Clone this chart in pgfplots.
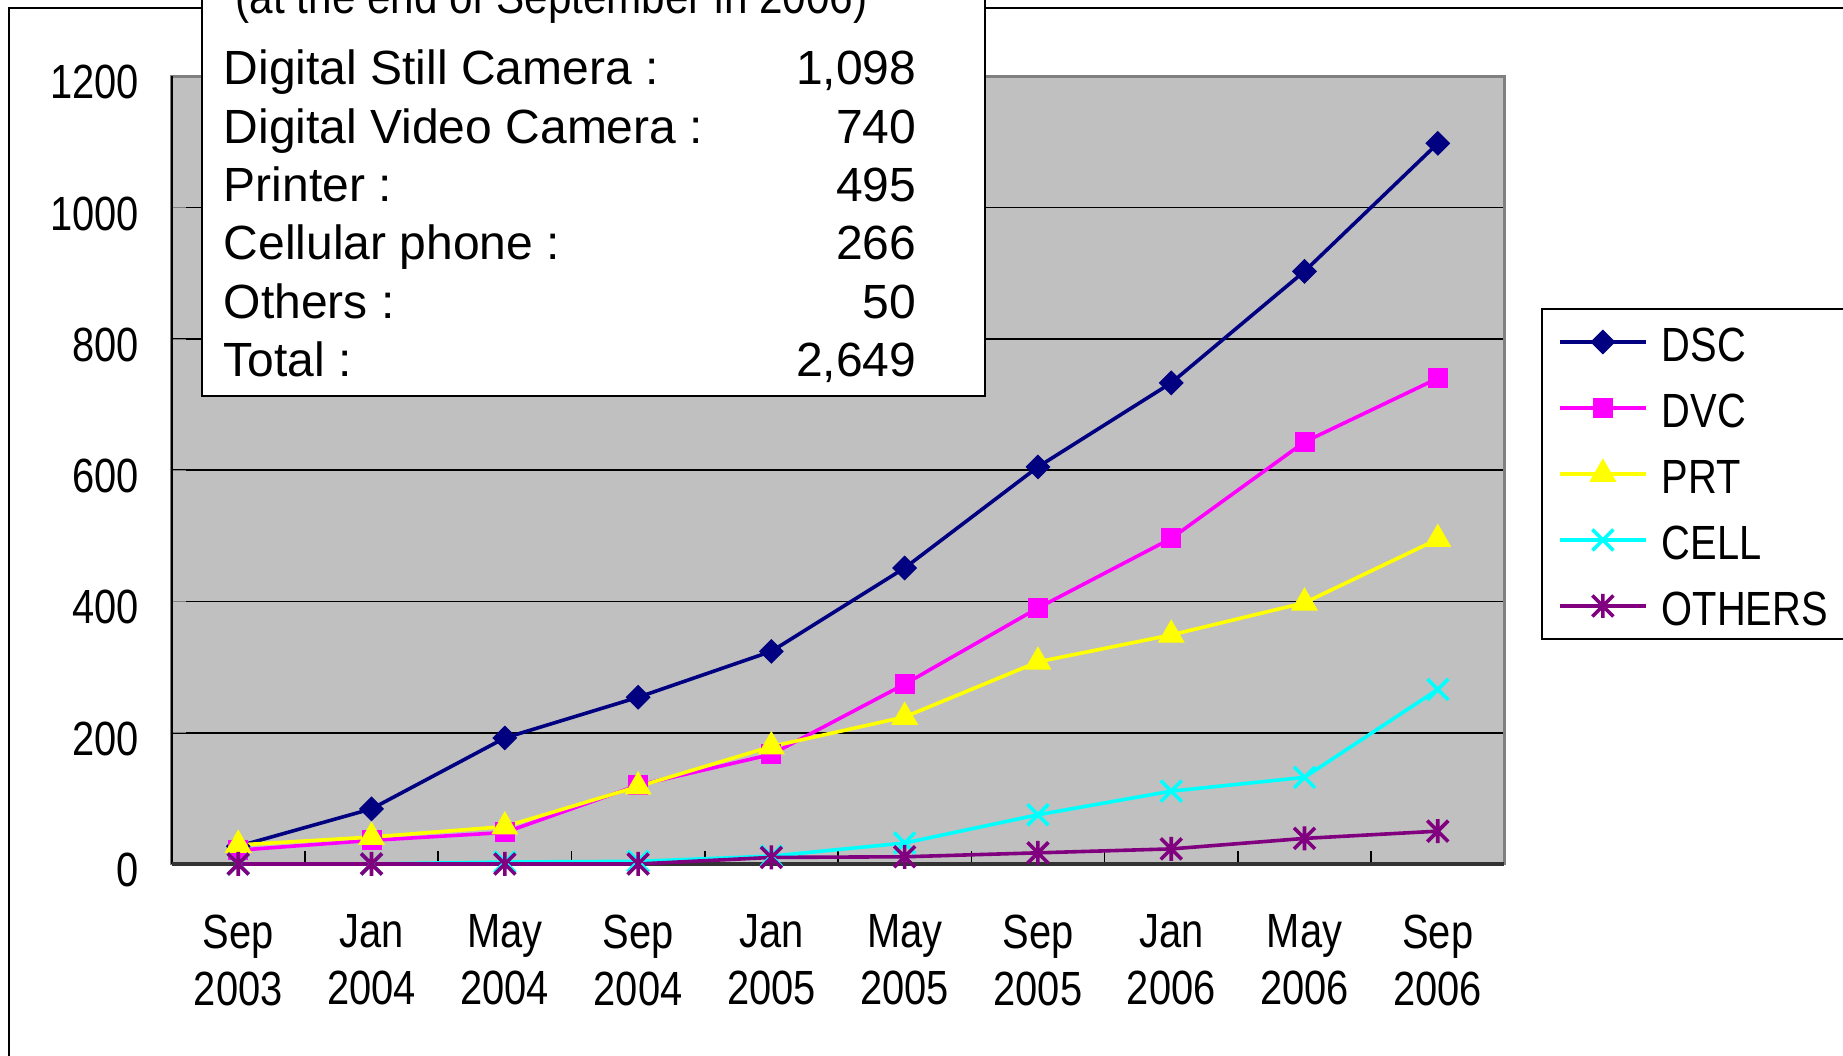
\documentclass[border=0pt]{standalone}
\usepackage{pgfplots}
\pgfplotsset{compat=1.18}
\usepackage{fontspec}
\setmainfont{Liberation Sans}
\newfontfamily\condensed[FakeStretch=0.83]{Liberation Sans}
\newfontfamily\headfont[FakeStretch=0.88]{Liberation Sans}
\definecolor{plotgray}{HTML}{C0C0C0}
\definecolor{bordergray}{HTML}{808080}
\definecolor{dscc}{HTML}{000080}
\definecolor{dvcc}{HTML}{FF00FF}
\definecolor{prtc}{HTML}{FFFF00}
\definecolor{cellc}{HTML}{00FFFF}
\definecolor{othc}{HTML}{800080}
\pgfdeclareplotmark{xstar}{%
  \pgfpathmoveto{\pgfqpoint{0pt}{\pgfplotmarksize}}%
  \pgfpathlineto{\pgfqpoint{0pt}{-\pgfplotmarksize}}%
  \pgfpathmoveto{\pgfqpoint{-.875\pgfplotmarksize}{-.875\pgfplotmarksize}}%
  \pgfpathlineto{\pgfqpoint{.875\pgfplotmarksize}{.875\pgfplotmarksize}}%
  \pgfpathmoveto{\pgfqpoint{-.875\pgfplotmarksize}{.875\pgfplotmarksize}}%
  \pgfpathlineto{\pgfqpoint{.875\pgfplotmarksize}{-.875\pgfplotmarksize}}%
  \pgfusepathqstroke}
\begin{document}
\fontsize{12}{14.25}\selectfont
\begin{tikzpicture}
\path[use as bounding box, clip] (0pt,0pt) rectangle (460.75pt,-264pt);
% outer frame
\draw[black, line width=0.4pt] (2.25pt,-300pt) -- (2.25pt,-2pt) -- (500pt,-2pt);
\begin{axis}[
  at={(42.9pt,-216pt)}, anchor=south west,
  width=333.2pt, height=196.9pt, scale only axis,
  xmin=-0.5, xmax=9.5, ymin=0, ymax=1200,
  xtick={0,...,9},
  xticklabels={{Sep\\2003},{Jan\\2004},{May\\2004},{Sep\\2004},{Jan\\2005},{May\\2005},{Sep\\2005},{Jan\\2006},{May\\2006},{Sep\\2006}},
  xticklabel style={align=center, yshift=-8.5pt, font=\condensed},
  minor xtick={-0.5,0.5,...,9.5},
  major x tick style={draw=none},
  minor x tick style={black, line width=0.4pt},
  minor tick length=3.3pt,
  major tick length=3.5pt,
  ytick={0,200,...,1200},
  yticklabel style={xshift=-4pt, yshift=-1.5pt, font=\condensed},
  /pgf/number format/1000 sep={},
  /pgf/number format/assume math mode=true,
  tick align=inside, tick pos=left,
  ymajorgrids, major grid style={black, line width=0.4pt},
  axis background/.style={fill=plotgray},
  axis line style={draw=bordergray, line width=0.7pt},
  clip=false,
  legend style={at={(1.0275,0.706)}, anchor=north west, draw=black, line width=0.5pt, fill=white,
    font=\condensed,
    inner xsep=4pt, inner ysep=2.5pt, row sep=5pt,
    nodes={inner sep=0pt, text height=10.75pt, text depth=0.75pt},
    column sep=3.5pt},
  legend cell align=left,
  legend image code/.code={\draw[mark repeat=2,mark phase=2] plot coordinates {(0pt,0pt)(10.75pt,0pt)(21.5pt,0pt)};},
  every axis plot/.append style={line width=0.9pt},
]
\draw[black, line width=0.5pt] (rel axis cs:0,1) -- (rel axis cs:0,0);
\draw[black!80, line width=0.8pt] (rel axis cs:0,0) -- (rel axis cs:1,0);
\addplot[color=dscc, mark=square*, mark size=2.05pt, mark options={rotate=45, fill=dscc, line width=0.3pt}] coordinates {
(0,27) (1,84) (2,192) (3,254) (4,324) (5,451) (6,605) (7,733) (8,903) (9,1098)};
\addlegendentry{DSC}
\addplot[color=dvcc, mark=square*, mark size=2.35pt, mark options={fill=dvcc, line width=0.3pt}] coordinates {
(0,21) (1,36) (2,48) (3,120) (4,167) (5,274) (6,390) (7,496) (8,643) (9,740)};
\addlegendentry{DVC}
\addplot[color=prtc, mark=triangle*, mark size=3.6pt, mark options={fill=prtc, line width=0.3pt}] coordinates {
(0,29) (1,41) (2,57) (3,118) (4,179) (5,224) (6,308) (7,349) (8,398) (9,495)};
\addlegendentry{PRT}
\addplot[color=cellc, mark=x, mark size=3.7pt, mark options={line width=0.9pt}] coordinates {
(0,0) (1,0) (2,3) (3,4) (4,12) (5,32) (6,75) (7,111) (8,132) (9,266)};
\addlegendentry{CELL}
\addplot[color=othc, mark=xstar, mark size=3pt, mark options={line width=0.9pt}] coordinates {
(0,0) (1,0) (2,0) (3,0) (4,10) (5,11) (6,17) (7,23) (8,39) (9,50)};
\addlegendentry{OTHERS}
\end{axis}
% text box
\draw[black, line width=0.5pt, fill=white] (50.5pt,10pt) rectangle (246.25pt,-99pt);
\node[anchor=base west, inner sep=0pt, font=\headfont] at (58.75pt,-3.5pt) {(at the end of September in 2006)};
\node[anchor=base west, inner sep=0pt] at (55.75pt,-21.2pt) {Digital Still Camera :};
\node[anchor=base west, inner sep=0pt] at (55.75pt,-35.8pt) {Digital Video Camera :};
\node[anchor=base west, inner sep=0pt] at (55.75pt,-50.4pt) {Printer :};
\node[anchor=base west, inner sep=0pt] at (55.75pt,-65.0pt) {Cellular phone :};
\node[anchor=base west, inner sep=0pt] at (55.75pt,-79.6pt) {Others :};
\node[anchor=base west, inner sep=0pt] at (55.75pt,-94.2pt) {Total :};
\node[anchor=base east, inner sep=0pt] at (229.25pt,-21.2pt) {1,098};
\node[anchor=base east, inner sep=0pt] at (229.25pt,-35.8pt) {740};
\node[anchor=base east, inner sep=0pt] at (229.25pt,-50.4pt) {495};
\node[anchor=base east, inner sep=0pt] at (229.25pt,-65.0pt) {266};
\node[anchor=base east, inner sep=0pt] at (229.25pt,-79.6pt) {50};
\node[anchor=base east, inner sep=0pt] at (229.25pt,-94.2pt) {2,649};
\end{tikzpicture}
\end{document}
